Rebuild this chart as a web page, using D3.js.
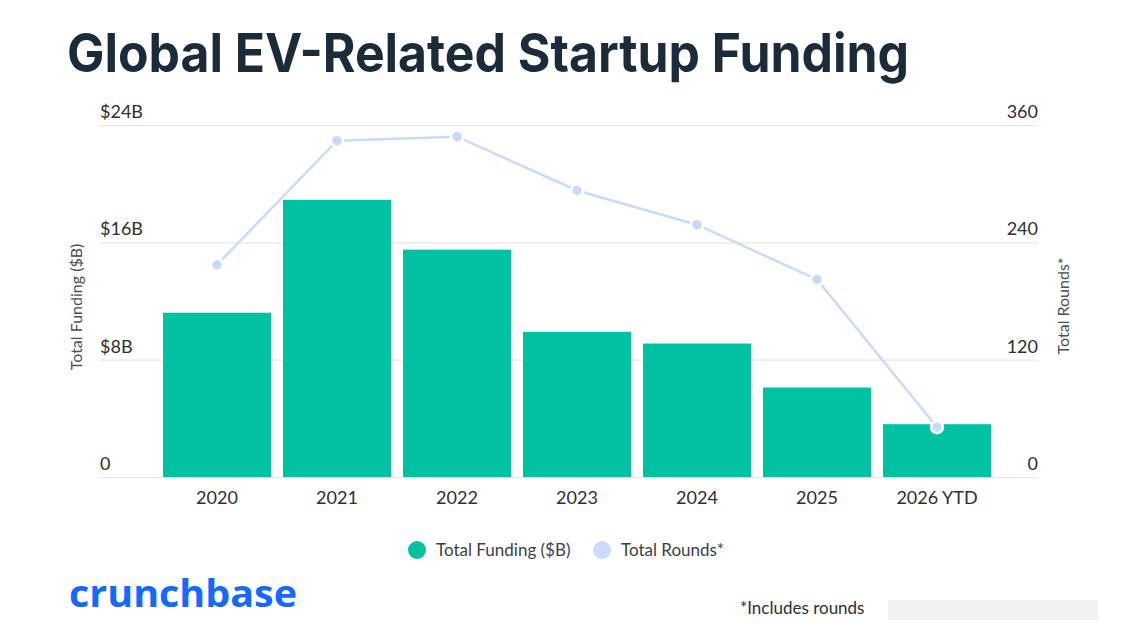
<!DOCTYPE html>
<html>
<head>
<meta charset="utf-8">
<script src="https://cdn.jsdelivr.net/npm/d3@7"></script>
<style>
  body { margin: 0; background: #fff; }
  svg { display: block; font-family: Lato, "Open Sans", sans-serif; }
</style>
</head>
<body>
<svg id="chart" width="1123" height="640"></svg>
<script>
// chart data
const years = ['2020', '2021', '2022', '2023', '2024', '2025', '2026 YTD'];
const funding = [11.2, 18.9, 15.5, 9.9, 9.1, 6.1, 3.6];   // $B
const rounds = [217, 344, 348, 293, 258, 202, 51];
const fundingTicks = [0, 8, 16, 24];
const roundTicks = [0, 120, 240, 360];

const svg = d3.select('#chart');

// title
svg.append('text')
  .attr('x', 67).attr('y', 72)
  .attr('fill', '#1c2b3a')
  .style('font-family', 'Inter, Lato, sans-serif')
  .style('font-weight', 700)
  .style('font-size', '53px')
  .attr('textLength', 842)
  .attr('lengthAdjust', 'spacingAndGlyphs')
  .text('Global EV-Related Startup Funding');

const x = d3.scaleBand().domain(years).range([157, 997])
  .paddingInner(0.1).paddingOuter(0.05);
const y = d3.scaleLinear().domain([0, 24]).range([477, 125]);
const y2 = d3.scaleLinear().domain([0, 360]).range([477, 125]);

// gridlines
svg.append('g').selectAll('line')
  .data(fundingTicks)
  .join('line')
  .attr('x1', 100).attr('x2', 1038)
  .attr('y1', d => y(d) + 0.5).attr('y2', d => y(d) + 0.5)
  .attr('stroke', '#e5e7ea').attr('stroke-width', 1.2);

// left tick labels
svg.append('g').selectAll('text')
  .data(fundingTicks)
  .join('text')
  .attr('x', 100).attr('y', d => y(d) - 7)
  .attr('fill', '#2c2f33').style('font-size', '18px')
  .text(d => d === 0 ? '0' : `$${d}B`);

// right tick labels
svg.append('g').selectAll('text')
  .data(roundTicks)
  .join('text')
  .attr('x', 1038).attr('y', d => y2(d) - 7)
  .attr('text-anchor', 'end')
  .attr('fill', '#2c2f33').style('font-size', '18px')
  .text(d => d);

// axis titles
svg.append('text')
  .attr('transform', 'translate(82,307) rotate(-90)')
  .attr('text-anchor', 'middle')
  .attr('fill', '#4a4f55').style('font-size', '16px')
  .text('Total Funding ($B)');

svg.append('text')
  .attr('transform', 'translate(1069,306) rotate(-90)')
  .attr('text-anchor', 'middle')
  .attr('fill', '#4a4f55').style('font-size', '16px')
  .text('Total Rounds*');

// bars
svg.append('g').selectAll('rect')
  .data(years)
  .join('rect')
  .attr('x', d => x(d))
  .attr('width', x.bandwidth())
  .attr('y', (d, i) => y(funding[i]))
  .attr('height', (d, i) => y(0) - y(funding[i]))
  .attr('fill', '#00c2a3');

// x labels
svg.append('g').selectAll('text')
  .data(years)
  .join('text')
  .attr('x', d => x(d) + x.bandwidth() / 2)
  .attr('y', 504)
  .attr('text-anchor', 'middle')
  .attr('fill', '#2c2f33').style('font-size', '18px')
  .text(d => d);

// rounds line
const line = d3.line()
  .x((d, i) => x(years[i]) + x.bandwidth() / 2)
  .y(d => y2(d));

svg.append('path')
  .datum(rounds)
  .attr('d', line)
  .attr('fill', 'none')
  .attr('stroke', '#cadbf8')
  .attr('stroke-width', 2.5);

svg.append('g').selectAll('circle')
  .data(rounds)
  .join('circle')
  .attr('cx', (d, i) => x(years[i]) + x.bandwidth() / 2)
  .attr('cy', d => y2(d))
  .attr('r', 6)
  .attr('fill', '#c9daf8')
  .attr('stroke', '#fff').attr('stroke-width', 2.5);

// legend
const legend = [
  { label: 'Total Funding ($B)', color: '#00c2a3', x: 417 },
  { label: 'Total Rounds*', color: '#cadbf8', x: 602 }
];
const lg = svg.append('g').selectAll('g')
  .data(legend)
  .join('g')
  .attr('transform', d => `translate(${d.x},550)`);
lg.append('circle').attr('r', 9).attr('fill', d => d.color);
lg.append('text')
  .attr('x', 19).attr('y', 6)
  .attr('fill', '#3a3f45').style('font-size', '17px')
  .text(d => d.label);

// crunchbase logo
svg.append('text')
  .attr('x', 69).attr('y', 607)
  .attr('fill', '#146aff')
  .style('font-family', '"Open Sans", sans-serif')
  .style('font-weight', 700)
  .style('font-size', '38px')
  .attr('textLength', 228)
  .attr('lengthAdjust', 'spacingAndGlyphs')
  .text('crunchbase');

// footnote
svg.append('text')
  .attr('x', 740).attr('y', 614)
  .attr('fill', '#2c2f33').style('font-size', '17px')
  .text('*Includes rounds');

// faded watermark remains
svg.append('rect')
  .attr('x', 888).attr('y', 600).attr('width', 210).attr('height', 20)
  .attr('fill', '#f1f1f1');
</script>
</body>
</html>
